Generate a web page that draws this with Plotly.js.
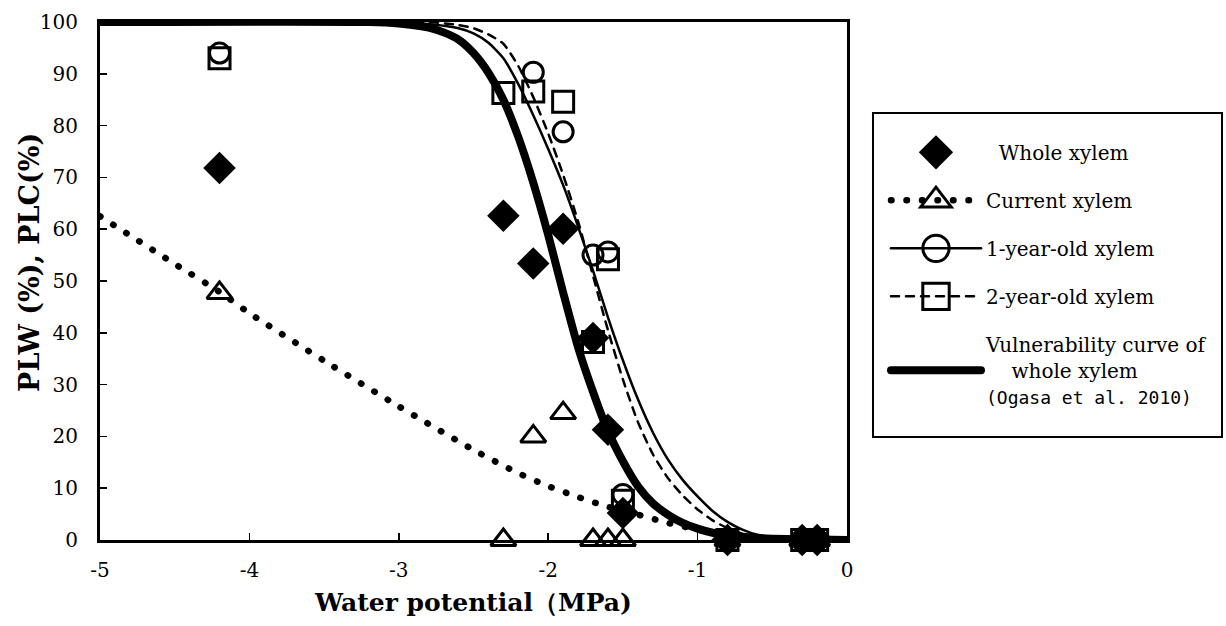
<!DOCTYPE html>
<html>
<head>
<meta charset="utf-8">
<script src="https://cdn.plot.ly/plotly-3.0.1.min.js"></script>
<style>
  html, body { margin: 0; padding: 0; background: #fff; }
  #plot { width: 1226px; height: 626px; }
  .js-line { stroke-linecap: round; }
</style>
</head>
<body>
<div id="plot"></div>
<script>
// ---- Observed points ----
const wholeX   = [-4.2, -2.3, -2.1, -1.9, -1.7, -1.6, -1.5, -0.8, -0.3, -0.2];
const wholeY   = [71.8, 62.6, 53.4, 60.1, 39.0, 21.3, 5.2, 0, 0, 0];

const currentX = [-4.2, -2.3, -2.1, -1.9, -1.7, -1.6, -1.5, -0.8, -0.3, -0.2];
const currentY = [47.7, 0, 20.0, 24.5, 0, 0, 0, 0, 0, 0];

const oneYrX   = [-4.2, -2.1, -1.9, -1.7, -1.6, -1.5, -0.8, -0.3, -0.2];
const oneYrY   = [94.0, 90.3, 78.8, 55.0, 55.6, 8.8, 0, 0, 0];

const twoYrX   = [-4.2, -2.3, -2.1, -1.9, -1.6, -1.7, -1.5, -0.8, -0.3, -0.2];
const twoYrY   = [93.0, 86.3, 86.6, 84.6, 54.2, 38.2, 7.6, 0, 0, 0];

// ---- Curves ----
const vulnX = [-5, -3.2, -3.0, -2.8, -2.7, -2.6, -2.5, -2.4, -2.3, -2.2, -2.1, -2.0, -1.9, -1.8, -1.7, -1.6, -1.5, -1.4, -1.3, -1.2, -1.1, -1.0, -0.9, -0.8, -0.6, -0.4, -0.2, 0];
const vulnY = [100, 100, 99.7, 98.9, 98.0, 96.6, 94.0, 90.2, 85.0, 77.8, 69.0, 58.9, 47.8, 37.2, 28.6, 21.0, 15.2, 10.4, 7.1, 4.9, 3.3, 2.2, 1.4, 0.9, 0.4, 0.2, 0.1, 0];

const curLineX = [-5, -4.5, -4.2, -4.0, -3.5, -3.0, -2.5, -2.2, -2.0, -1.8, -1.6, -1.4, -1.2, -1.0, -0.8];
const curLineY = [62.5, 53.3, 47.9, 43.8, 34.6, 25.8, 17.4, 12.9, 10.4, 8.3, 6.4, 4.9, 3.3, 2.0, 0.9];

const oneLineX = [-5, -3.0, -2.8, -2.6, -2.5, -2.4, -2.3, -2.2, -2.1, -2.0, -1.9, -1.8, -1.7, -1.6, -1.5, -1.4, -1.3, -1.2, -1.1, -1.0, -0.9, -0.8, -0.7, -0.6, -0.4, -0.2, 0];
const oneLineY = [100, 100, 99.6, 98.8, 97.8, 96.0, 93.0, 88.0, 82.0, 75.5, 68.5, 60.5, 52.0, 43.0, 34.7, 27.2, 20.8, 15.6, 11.6, 8.4, 5.6, 3.5, 2.0, 1.0, 0.3, 0.1, 0];

const twoLineX = [-5, -2.8, -2.6, -2.5, -2.4, -2.3, -2.2, -2.1, -2.0, -1.9, -1.8, -1.7, -1.6, -1.5, -1.4, -1.3, -1.2, -1.1, -1.0, -0.9, -0.8, -0.7, -0.6, -0.4, -0.2, 0];
const twoLineY = [100, 100, 99.4, 98.8, 97.6, 95.8, 91.5, 85.5, 78.5, 70.5, 61.5, 51.0, 40.5, 31.0, 22.8, 16.6, 12.0, 8.6, 5.9, 3.8, 2.3, 1.2, 0.5, 0.1, 0, 0];

// ---- Axis ticks ----
const xTickVals = [-5, -4, -3, -2, -1, 0];
const xTickText = ['-5', '-4', '-3', '-2', '-1', '0'];
const yTickVals = [0, 10, 20, 30, 40, 50, 60, 70, 80, 90, 100];
const yTickText = ['0', '10', '20', '30', '40', '50', '60', '70', '80', '90', '100'];

// ---- Labels ----
const xTitle = 'Water potential（MPa)';
const yTitle = 'PLW (%), PLC(%)';
const NB = '\u00a0';
const names = {
  whole: NB + NB + 'Whole xylem',
  current: 'Current xylem',
  one: '1-year-old xylem',
  two: '2-year-old xylem',
  vuln: 'Vulnerability curve of<br>' + NB + NB + NB + NB + 'whole xylem<br><span style="font-family:\'DejaVu Sans Mono\';font-size:18px">(Ogasa et al. 2010)</span>'
};

// helper: interleave nulls so that a points trace carries a line style for the legend only
function isolate(arr) {
  const out = [];
  arr.forEach(v => { out.push(v); out.push(null); });
  return out;
}

const ML = {color: 'black', width: 3};
const dottedDash = '0.5px,15px';
const dashedDash = '8px,7px';

const data = [
  // curves
  {type: 'scatter', mode: 'lines', x: curLineX, y: curLineY, legendgroup: 'g2', showlegend: false,
   line: {color: 'black', width: 6.5, dash: dottedDash, shape: 'spline', smoothing: 0.6}, hoverinfo: 'skip'},
  {type: 'scatter', mode: 'lines', x: twoLineX, y: twoLineY, legendgroup: 'g4', showlegend: false,
   line: {color: 'black', width: 2.5, dash: dashedDash, shape: 'spline', smoothing: 0.6}, hoverinfo: 'skip'},
  {type: 'scatter', mode: 'lines', x: oneLineX, y: oneLineY, legendgroup: 'g3', showlegend: false,
   line: {color: 'black', width: 2.5, shape: 'spline', smoothing: 0.6}, hoverinfo: 'skip'},
  {type: 'scatter', mode: 'lines', x: vulnX, y: vulnY, name: names.vuln, legendgroup: 'g5', legendrank: 5,
   line: {color: 'black', width: 8, shape: 'spline', smoothing: 0.6}, hoverinfo: 'skip'},
  // points
  {type: 'scatter', mode: 'lines+markers', x: isolate(currentX), y: isolate(currentY), connectgaps: false,
   name: names.current, legendgroup: 'g2', legendrank: 2, cliponaxis: false,
   line: {color: 'black', width: 6.5, dash: dottedDash},
   marker: {symbol: 'triangle-up-open', size: 22, color: 'black', line: ML}},
  {type: 'scatter', mode: 'lines+markers', x: isolate(twoYrX), y: isolate(twoYrY), connectgaps: false,
   name: names.two, legendgroup: 'g4', legendrank: 4, cliponaxis: false,
   line: {color: 'black', width: 2.5, dash: dashedDash},
   marker: {symbol: 'square-open', size: 21, color: 'black', line: ML}},
  {type: 'scatter', mode: 'lines+markers', x: isolate(oneYrX), y: isolate(oneYrY), connectgaps: false,
   name: names.one, legendgroup: 'g3', legendrank: 3, cliponaxis: false,
   line: {color: 'black', width: 2.5},
   marker: {symbol: 'circle-open', size: 20, color: 'black', line: ML}},
  {type: 'scatter', mode: 'markers', x: wholeX, y: wholeY, name: names.whole, legendgroup: 'g1', legendrank: 1,
   cliponaxis: false,
   marker: {symbol: 'diamond', size: 25, color: 'black', line: {width: 0}}}
];

const FONT = 'DejaVu Serif';
const layout = {
  width: 1226, height: 626,
  margin: {l: 100, r: 379, t: 22, b: 86, autoexpand: false},
  paper_bgcolor: 'white', plot_bgcolor: 'white',
  showlegend: true,
  font: {family: FONT, color: 'black'},
  xaxis: {
    range: [-5, 0], tickvals: xTickVals, ticktext: xTickText,
    showgrid: false, zeroline: false, showline: true, mirror: true,
    linecolor: 'black', linewidth: 3,
    ticks: 'inside', ticklen: 7, tickwidth: 1.5, tickcolor: 'black',
    ticklabelstandoff: 10,
    tickfont: {family: FONT, size: 20, color: 'black'},
    title: {text: '<b>' + xTitle + '</b>', font: {family: FONT, size: 25, color: 'black'}, standoff: 13},
    automargin: false
  },
  yaxis: {
    range: [0, 100], tickvals: yTickVals, ticktext: yTickText,
    showgrid: false, zeroline: false, showline: true, mirror: true,
    linecolor: 'black', linewidth: 3,
    ticks: 'inside', ticklen: 7, tickwidth: 1.5, tickcolor: 'black',
    ticklabelstandoff: 15,
    tickfont: {family: FONT, size: 20, color: 'black'},
    automargin: false
  },
  annotations: [{
    text: '<b>' + yTitle + '</b>', textangle: -90, showarrow: false,
    xref: 'paper', yref: 'paper', x: -0.0937, y: 0.535, xanchor: 'center', yanchor: 'middle',
    font: {family: FONT, size: 27, color: 'black'}
  }],
  shapes: [{
    type: 'rect', xref: 'paper', yref: 'paper', x0: 1.0348, x1: 1.502, y0: 0.1988, y1: 0.8243,
    line: {color: 'black', width: 2}, fillcolor: 'rgba(0,0,0,0)', layer: 'above'
  }],
  legend: {
    x: 1.0522, y: 0.786, xanchor: 'left', yanchor: 'top',
    borderwidth: 0, bgcolor: 'rgba(0,0,0,0)',
    font: {family: FONT, size: 20, color: 'black'},
    itemwidth: 90, tracegroupgap: 19, traceorder: 'grouped'
  }
};

Plotly.newPlot('plot', data, layout, {staticPlot: true}).then(gd => {
  gd.querySelectorAll('.legend .legendpoints path.scatterpts').forEach(p => {
    const t = p.getAttribute('transform') || '';
    p.setAttribute('transform', t + ' scale(1.65)');
    p.style.vectorEffect = 'non-scaling-stroke';
  });
});
</script>
</body>
</html>
